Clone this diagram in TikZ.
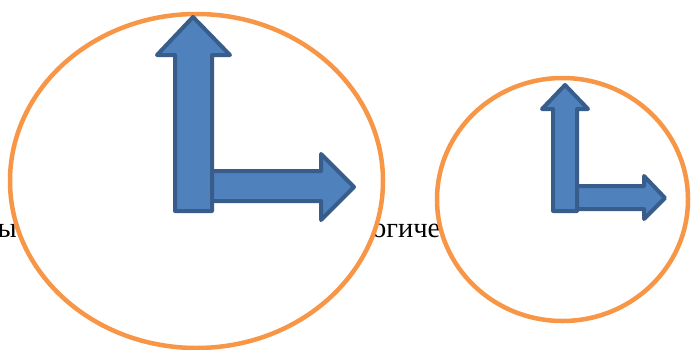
\documentclass[tikz,border=0pt]{standalone}
\usepackage{fontspec}
\setmainfont{Liberation Serif}
\begin{document}
\begin{tikzpicture}[x=1pt,y=-1pt,
  dial/.style={draw=orangeline,fill=white,line width=4.5pt},
  hand/.style={draw=handline,fill=handfill,line width=4pt,line join=round},
  txt/.style={inner sep=0pt,font=\fontsize{28.5}{34}\selectfont}]
\definecolor{orangeline}{HTML}{F79646}
\definecolor{handfill}{HTML}{4F81BD}
\definecolor{handline}{HTML}{385D8A}
\useasboundingbox (0,0) rectangle (691,349);
% background text, partly hidden
\node[txt,anchor=base east] (t1) at (17,237) {ы};
\node[txt,anchor=base west] (t2) at (372,237) {огиче};
% dials
\draw[dial] (196.5,181) ellipse [x radius=186.5,y radius=167];
\draw[dial] (562.5,199.5) ellipse [x radius=125.5,y radius=121.5];
% big clock hands
\draw[hand] (205,171) -- (321,171) -- (321,154) -- (354,187) -- (321,220) -- (321,201) -- (205,201) -- cycle;
\draw[hand] (175,211) -- (175,55) -- (157,55) -- (193,17) -- (230,55) -- (212,55) -- (212,211) -- cycle;
% small clock hands
\draw[hand] (570,186) -- (644,186) -- (644,176) -- (665,198) -- (644,219) -- (644,209) -- (570,209) -- cycle;
\draw[hand] (553,211) -- (553,109) -- (542,109) -- (565,85) -- (588,109) -- (577,109) -- (577,211) -- cycle;
\end{tikzpicture}
\end{document}
